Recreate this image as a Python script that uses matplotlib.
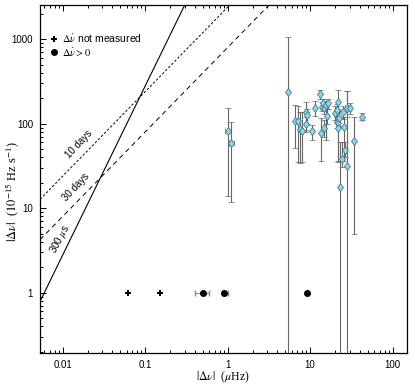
import numpy as np
import matplotlib
matplotlib.use("Agg")
from matplotlib import pyplot as plt
from matplotlib.ticker import LogLocator, NullFormatter, FixedFormatter, FixedLocator

plt.rcParams['font.family'] = ['Liberation Sans', 'DejaVu Sans']
plt.rcParams['mathtext.fontset'] = 'stix'

# glitches with measured d(nu-dot): |dnu| (uHz), |dnudot| (1e-15 Hz/s) with error range
glitch_dnu = [1.01, 1.11, 5.4, 6.55, 7.05, 7.5, 8.0, 8.8, 9.06, 8.8, 10.4, 11.4, 13.2, 13.5,
              13.8, 14.7, 14.8, 14.4, 15.5, 16.3, 15.8, 21.5, 20.0, 20.9, 20.9, 21.5, 21.9,
              22.5, 22.9, 24.0, 25.2, 26.0, 26.5, 27.7, 28.2, 30.4, 34.0, 42.6]
glitch_dnudot = [83, 59, 240, 108, 107, 86, 83, 139, 127, 99, 83, 155, 223, 77,
                 159, 88, 152, 174, 166, 174, 124, 179, 133, 145, 106, 101, 88,
                 116, 18, 38, 139, 92, 49, 152, 32, 155, 63, 121]
glitch_lo = [14, 12, 0.1, 51, 35, 34, 35, 84, 100, 80, 65, 123, 195, 36,
             140, 70, 130, 150, 65, 150, 100, 150, 110, 120, 90, 36, 35,
             95, 0.1, 31, 115, 36, 40, 120, 0.1, 130, 5, 110]
glitch_hi = [152, 106, 1050, 166, 162, 139, 139, 182, 150, 120, 97, 188, 250, 116,
             180, 110, 175, 195, 188, 195, 150, 250, 160, 170, 125, 125, 110,
             140, 60, 60, 160, 120, 60, 246, 246, 175, 119, 135]
glitch_xerr = [0.08, 0.08] + [0] * 36

# glitches plotted at 1 (no measured change)
nm_dnu = [0.061, 0.153]
pos_dnu = [0.505, 0.907, 9.2]
pos_xlo = [0.40, 0.85, 9.2]
pos_xhi = [0.60, 1.00, 9.2]

# constant lines
line_300us = 28000.0   # y = C * x^2
line_10d = 2400.0      # y = C * x
line_30d = 800.0

fig = plt.figure(figsize=(4.15, 3.84), dpi=100)
ax = fig.add_axes([0.0964, 0.0815, 0.8836, 0.9047])
ax.set_xscale('log')
ax.set_yscale('log')
xmin, xmax = 0.0053, 148
ymin, ymax = 0.195, 2520
ax.set_xlim(xmin, xmax)
ax.set_ylim(ymin, ymax)

xx = np.logspace(np.log10(xmin), np.log10(xmax), 400)
ax.plot(xx, line_300us * xx ** 2, color='k', lw=0.8)
ax.plot(xx, line_10d * xx, color='k', lw=0.7, dashes=(2.5, 2))
ax.plot(xx, line_30d * xx, color='k', lw=0.7, dashes=(5, 4))

ax.text(0.0158, 57, '10 days', rotation=47, fontsize=7, ha='center', va='center')
ax.text(0.0145, 18, '30 days', rotation=47, fontsize=7, ha='center', va='center')
ax.text(0.0094, 4.3, r'300 $\mu$s', rotation=62, fontsize=7, ha='center', va='center')

y = np.array(glitch_dnudot, float)
yerr = [y - np.array(glitch_lo), np.array(glitch_hi) - y]
ax.errorbar(glitch_dnu, y, yerr=yerr, xerr=glitch_xerr, fmt='d', ms=4.5, mfc='#8fd5ea',
            mec='#336677', mew=0.5, ecolor='#666666', elinewidth=0.8, capsize=2,
            capthick=0.6, zorder=3)

ax.plot(nm_dnu, [1] * len(nm_dnu), 'P', color='k', ms=5, mew=0, ls='none')
pos = np.array(pos_dnu)
ax.errorbar(pos, [1] * len(pos), xerr=[pos - np.array(pos_xlo), np.array(pos_xhi) - pos],
            fmt='o', color='k', ms=4, ecolor='#888888', elinewidth=0.7, capsize=2)

# legend
ax.plot([0.0078], [1000], 'P', color='k', ms=5, mew=0)
ax.plot([0.0078], [700], 'o', color='k', ms=4)
ax.text(0.0098, 1000, r'$\Delta\dot{\nu}$ not measured', fontsize=7.5, va='center')
ax.text(0.0098, 700, r'$\Delta\dot{\nu} > 0$', fontsize=7.5, va='center')

ax.xaxis.set_major_locator(FixedLocator([0.01, 0.1, 1, 10, 100]))
ax.xaxis.set_major_formatter(FixedFormatter(['0.01', '0.1', '1', '10', '100']))
ax.yaxis.set_major_locator(FixedLocator([1, 10, 100, 1000]))
ax.yaxis.set_major_formatter(FixedFormatter(['1', '10', '100', '1000']))
ax.xaxis.set_minor_locator(LogLocator(base=10, subs=np.arange(2, 10)))
ax.yaxis.set_minor_locator(LogLocator(base=10, subs=np.arange(2, 10)))
ax.xaxis.set_minor_formatter(NullFormatter())
ax.yaxis.set_minor_formatter(NullFormatter())
ax.tick_params(which='both', direction='in', top=True, right=False, labelsize=7, width=0.7)
ax.tick_params(which='major', length=4, pad=5)
ax.tick_params(which='minor', length=2.5)
for s in ax.spines.values():
    s.set_linewidth(0.9)

fig.text(223 / 415, 1 - 377 / 384, r'$|\Delta\nu|$  ($\mu$Hz)', fontsize=8.5,
         family='Liberation Serif', ha='center', va='center')
fig.text(13 / 415, 1 - 192 / 384, r'$|\Delta\nu|$  ($10^{-15}$ Hz s$^{-1}$)', fontsize=9,
         family='Liberation Serif', ha='center', va='center', rotation=90)

fig.savefig('out.png', dpi=100)
